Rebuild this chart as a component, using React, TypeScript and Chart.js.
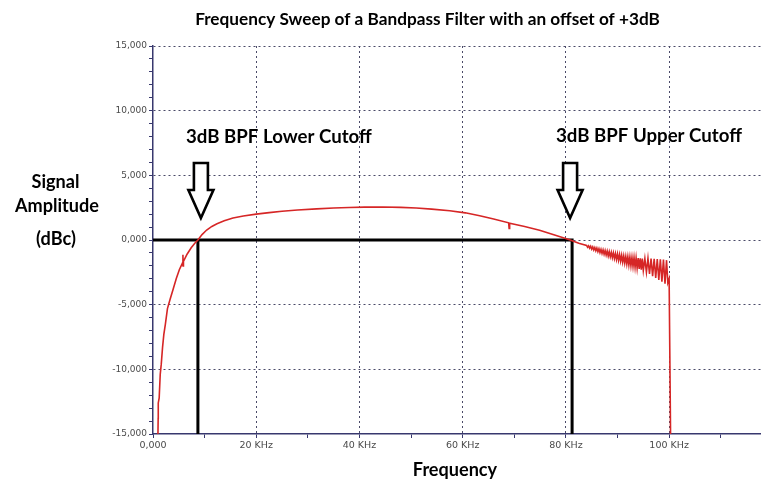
import React, { useEffect, useRef } from 'react';
import { Chart, registerables } from 'chart.js';

Chart.register(...registerables);

// ---- Data (kHz, dBc) ----
const freqKHz = [
  0.9, 0.96, 1.0, 1.02, 1.2, 1.4, 1.6, 1.85, 2.1, 2.4, 2.8, 3.3, 3.9, 4.5, 5.1,
  5.75, 5.8, 5.83, 5.9, 6.6, 7.4, 8.1, 8.7, 9.5, 10.4, 11.4, 12.4, 13.8, 15.5,
  17.5, 20.0, 22.5, 25.0, 28.0, 31.7, 35.0, 38.0, 41.0, 44.5, 48.0, 51.0, 54.0,
  57.5, 60.5, 63.3, 66.0, 68.9, 69.0, 69.1, 72.0, 74.9, 77.5, 80.7, 82.5,
  84.0, 84.2, 84.4, 84.6, 84.8, 85.0, 85.2, 85.4, 85.6, 85.8, 86.0, 86.2, 86.4,
  86.6, 86.8, 87.0, 87.2, 87.4, 87.6, 87.8, 88.0, 88.2, 88.4, 88.6, 88.8, 89.0,
  89.2, 89.4, 89.6, 89.8, 90.0, 90.2, 90.4, 90.6, 90.8, 91.0, 91.2, 91.4, 91.6,
  91.8, 92.0, 92.2, 92.4, 92.6, 92.8, 93.0, 93.2, 93.4, 93.6, 93.8, 94.0, 94.2,
  94.4, 94.6, 94.8, 95.0, 95.3, 95.6, 95.9, 96.2, 96.5, 96.8, 97.1, 97.4, 97.7,
  98.0, 98.3, 98.6, 98.9, 99.2, 99.5, 99.75, 100.0, 100.3,
];
const amplitudeDbc = [
  -16.5, -15.0, -13.8, -12.6, -12.2, -10.4, -9.6, -8.3, -7.3, -6.5, -5.3, -4.6,
  -3.8, -3.0, -2.3, -1.75, -1.15, -2.0, -1.65, -1.1, -0.6, -0.25, 0.0, 0.42, 0.77,
  1.05, 1.25, 1.48, 1.7, 1.86, 2.0, 2.12, 2.22, 2.32, 2.41, 2.47, 2.51, 2.54,
  2.55, 2.52, 2.47, 2.39, 2.26, 2.1, 1.88, 1.62, 1.33, 0.9, 1.3, 1.05, 0.76,
  0.42, 0.02, -0.26,
  -0.42, -0.56, -0.45, -0.63, -0.48, -0.70, -0.53, -0.77, -0.58, -0.83, -0.62,
  -0.90, -0.67, -0.97, -0.72, -1.04, -0.76, -1.10, -0.81, -1.17, -0.86, -1.24,
  -0.91, -1.30, -0.95, -1.37, -1.00, -1.44, -1.05, -1.51, -1.08, -1.57, -1.13,
  -1.64, -1.18, -1.71, -1.23, -1.78, -1.27, -1.85, -1.30, -1.93, -1.32, -1.99,
  -1.34, -2.05, -1.36, -2.11, -1.38, -2.17, -1.40, -2.23, -1.42, -2.29, -1.44,
  -2.35, -1.44, -2.49, -1.42, -2.63, -1.43, -2.79, -1.45, -2.94, -1.47, -3.09,
  -1.50, -3.23, -1.52, -3.37, -1.56, -3.3, -3.0, -16.0,
];

const lowerCutoffKHz = 8.7;
const upperCutoffKHz = 81.2;
const cutoffLevelDbc = 0;
const floorDbc = -15;

const xTickValues = [0, 10, 20, 30, 40, 50, 60, 70, 80, 90, 100, 110];
const xMajorValues = [0, 20, 40, 60, 80, 100];
const xTickLabels = ['0,000', '20 KHz', '40 KHz', '60 KHz', '80 KHz', '100 KHz'];

const yMajorValues = [-15, -10, -5, 0, 5, 10, 15];
const yTickLabels = ['-15,000', '-10,000', '-5,000', '0,000', '5,000', '10,000', '15,000'];

const titleText = 'Frequency Sweep of a Bandpass Filter with an offset of +3dB';
const xAxisTitle = 'Frequency';
const yAxisTitleLines = ['Signal', 'Amplitude', '(dBc)'];
const lowerLabel = '3dB BPF Lower Cutoff';
const upperLabel = '3dB BPF Upper Cutoff';

const AXIS_COLOR = '#38386e';
const GRID_COLOR = '#4a4a68';
const TICK_TEXT = '#4a4a4a';
const TEXT_FONT = 'Lato, "Open Sans", sans-serif';

function sizeFor(ctx: CanvasRenderingContext2D, text: string, targetW: number) {
  ctx.font = `bold 20px ${TEXT_FONT}`;
  return (20 * targetW) / ctx.measureText(text).width;
}

function drawText(ctx: CanvasRenderingContext2D, text: string, x: number, baseline: number, size: number, align: CanvasTextAlign) {
  ctx.font = `bold ${size}px ${TEXT_FONT}`;
  ctx.textAlign = align;
  ctx.textBaseline = 'alphabetic';
  ctx.fillStyle = '#000';
  ctx.fillText(text, x, baseline);
}

function drawArrow(ctx: CanvasRenderingContext2D, cx: number, top: number, tip: number) {
  const shaftHalf = 7;
  const headHalf = 12.5;
  const shaftBottom = top + (tip - top) * 0.49;
  ctx.save();
  ctx.beginPath();
  ctx.moveTo(cx - shaftHalf, top);
  ctx.lineTo(cx + shaftHalf, top);
  ctx.lineTo(cx + shaftHalf, shaftBottom);
  ctx.lineTo(cx + headHalf, shaftBottom);
  ctx.lineTo(cx, tip);
  ctx.lineTo(cx - headHalf, shaftBottom);
  ctx.lineTo(cx - shaftHalf, shaftBottom);
  ctx.closePath();
  ctx.fillStyle = '#fff';
  ctx.fill();
  ctx.lineWidth = 2.6;
  ctx.strokeStyle = '#000';
  ctx.lineJoin = 'miter';
  ctx.stroke();
  ctx.restore();
}

const overlayPlugin = {
  id: 'overlay',
  afterDraw(chart: any) {
    const ctx: CanvasRenderingContext2D = chart.ctx;
    const xs = chart.scales.x;
    const ys = chart.scales.y;
    ctx.save();
    drawText(ctx, titleText, 427.5, 25, sizeFor(ctx, titleText, 465), 'center');
    const labelSize = sizeFor(ctx, yAxisTitleLines[1], 84);
    drawText(ctx, yAxisTitleLines[0], 55.5, 188, labelSize, 'center');
    drawText(ctx, yAxisTitleLines[1], 57, 212, labelSize, 'center');
    drawText(ctx, yAxisTitleLines[2], 56, 245, labelSize, 'center');
    drawText(ctx, xAxisTitle, 455, 476, labelSize, 'center');
    const annSize = sizeFor(ctx, upperLabel, 186);
    drawText(ctx, lowerLabel, 186, 143, annSize, 'left');
    drawText(ctx, upperLabel, 556, 142, annSize, 'left');
    const tipY = ys.getPixelForValue(1.7);
    const topY = ys.getPixelForValue(5.95);
    drawArrow(ctx, xs.getPixelForValue(lowerCutoffKHz) + 3, topY, tipY);
    drawArrow(ctx, xs.getPixelForValue(upperCutoffKHz) - 2, topY, tipY);
    ctx.restore();
  },
};

export default function App() {
  const ref = useRef<HTMLCanvasElement | null>(null);
  useEffect(() => {
    if (!ref.current) return;
    const curve = freqKHz.map((f, i) => ({ x: f, y: amplitudeDbc[i] }));
    const upperPath = [
      { x: 0, y: cutoffLevelDbc },
      { x: upperCutoffKHz, y: cutoffLevelDbc },
      { x: upperCutoffKHz, y: floorDbc },
    ];
    const lowerPath = [
      { x: lowerCutoffKHz, y: cutoffLevelDbc },
      { x: lowerCutoffKHz, y: floorDbc },
    ];
    const chart = new Chart(ref.current, {
      type: 'line',
      data: {
        datasets: [
          { data: curve, borderColor: '#d62626', borderWidth: 1.6, pointRadius: 0, tension: 0 },
          { data: upperPath, borderColor: '#000', borderWidth: 3, pointRadius: 0, tension: 0 },
          { data: lowerPath, borderColor: '#000', borderWidth: 3, pointRadius: 0, tension: 0 },
        ],
      },
      options: {
        animation: false,
        responsive: false,
        devicePixelRatio: 1,
        layout: { padding: { top: 46, left: 0, right: 0, bottom: 0 } },
        plugins: { legend: { display: false }, tooltip: { enabled: false }, title: { display: false } },
        scales: {
          x: {
            type: 'linear',
            min: 0,
            max: 117.8,
            afterFit(s: any) { s.height = 48; },
            afterBuildTicks(s: any) { s.ticks = xTickValues.map((v) => ({ value: v })); },
            ticks: {
              autoSkip: false,
              maxRotation: 0,
              padding: 2,
              color: TICK_TEXT,
              font: { family: '"DejaVu Sans", Verdana, sans-serif', size: 9.5 },
              callback: (v: any) => {
                const i = xMajorValues.indexOf(Number(v));
                return i >= 0 ? xTickLabels[i] : '';
              },
            },
            grid: {
              color: (c: any) => (c.tick && xMajorValues.indexOf(c.tick.value) > 0 ? GRID_COLOR : 'rgba(0,0,0,0)'),
              lineWidth: 1,
              drawTicks: true,
              tickLength: 4,
              tickColor: AXIS_COLOR,
              tickBorderDash: [],
            },
            border: { color: AXIS_COLOR, width: 1.5, dash: [2, 3] },
          },
          y: {
            type: 'linear',
            min: -15,
            max: 15,
            afterFit(s: any) { s.width = 153; },
            afterBuildTicks(s: any) {
              const t = [];
              for (let v = -15; v <= 15; v++) t.push({ value: v });
              s.ticks = t;
            },
            ticks: {
              autoSkip: false,
              padding: 2,
              color: TICK_TEXT,
              font: { family: '"DejaVu Sans", Verdana, sans-serif', size: 9 },
              callback: (v: any) => {
                const i = yMajorValues.indexOf(Number(v));
                return i >= 0 ? yTickLabels[i] : '';
              },
            },
            grid: {
              color: (c: any) => (c.tick && yMajorValues.indexOf(c.tick.value) > 0 ? GRID_COLOR : 'rgba(0,0,0,0)'),
              lineWidth: 1,
              drawTicks: true,
              tickLength: 4,
              tickColor: AXIS_COLOR,
              tickBorderDash: [],
            },
            border: { color: AXIS_COLOR, width: 1.5, dash: [2, 3] },
          },
        },
      },
      plugins: [overlayPlugin],
    } as any);
    return () => chart.destroy();
  }, []);
  return (
    <div style={{ position: 'absolute', left: 0, top: 0, width: 761, height: 482, background: '#fff' }}>
      <canvas ref={ref} width={761} height={482} style={{ display: 'block', width: 761, height: 482 }} />
    </div>
  );
}
